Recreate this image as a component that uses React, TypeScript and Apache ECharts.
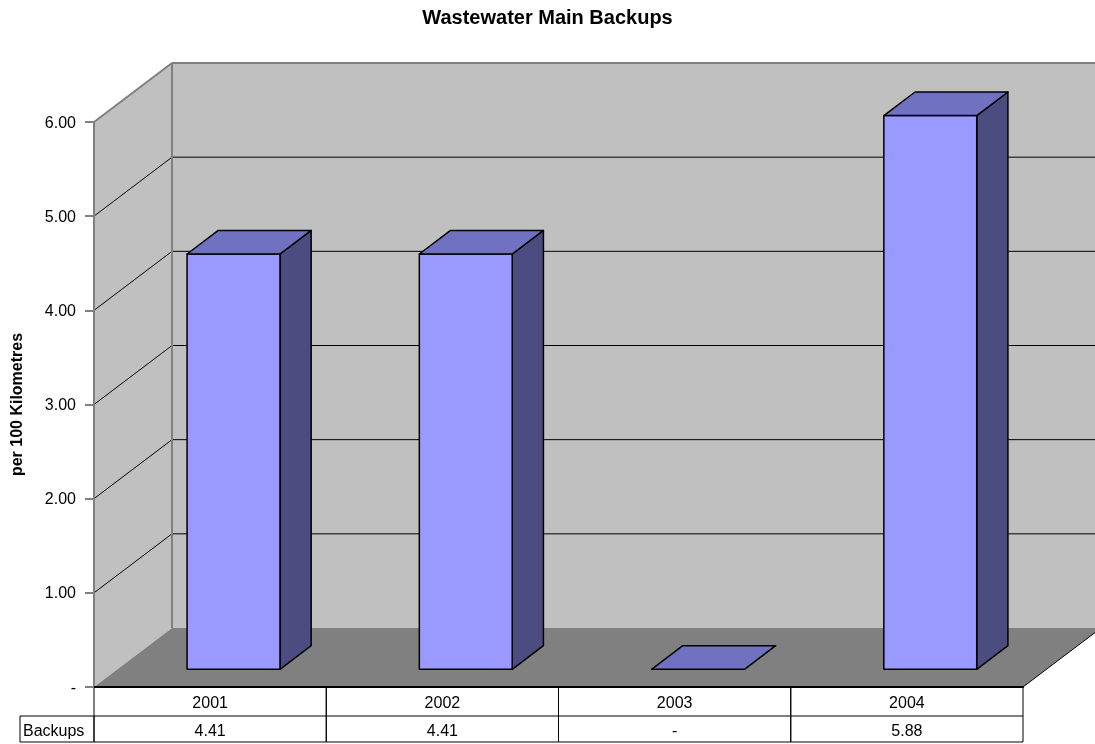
import React, { useEffect, useRef } from "react";
import * as echarts from "echarts";

const categories = ["2001", "2002", "2003", "2004"];
const values = [4.41, 4.41, 0, 5.88];
const seriesName = "Backups";
const yTicks = [0, 1, 2, 3, 4, 5, 6];
const titleText = "Wastewater Main Backups";
const yAxisTitle = "per 100 Kilometres";

const FONT = "'Liberation Sans', Arial, sans-serif";
const DX = 78;
const DY = -59;
const FRONT_T = 0.3;
const DEPTH_T = 0.4;
const BAR_RATIO = 0.4;
const ROW1 = 29;
const ROW2 = 26;

const fmt = (v: number) => (v === 0 ? "-" : v.toFixed(2));

export default function App() {
  const ref = useRef<HTMLDivElement>(null);
  useEffect(() => {
    if (!ref.current) return;
    const chart = echarts.init(ref.current, undefined, { renderer: "svg" });

    const wallsRender = (params: any, api: any) => {
      const cs = params.coordSys;
      const x0 = cs.x, x1 = cs.x + cs.width, yTop = cs.y, yBot = cs.y + cs.height;
      const children: any[] = [];
      children.push({ type: "rect", shape: { x: x0 + DX, y: yTop + DY, width: cs.width, height: cs.height }, style: { fill: "#c0c0c0" } });
      children.push({ type: "polygon", shape: { points: [[x0, yTop], [x0 + DX, yTop + DY], [x0 + DX, yBot + DY], [x0, yBot]] }, style: { fill: "#c0c0c0" } });
      children.push({ type: "polygon", shape: { points: [[x0, yBot], [x0 + DX, yBot + DY], [x1 + DX, yBot + DY], [x1, yBot]] }, style: { fill: "#808080" } });
      yTicks.forEach((v) => {
        if (v === 0 || v === yTicks[yTicks.length - 1]) return;
        const y = api.coord([0, v])[1];
        children.push({ type: "line", shape: { x1: x0 + DX, y1: y + DY, x2: x1 + DX, y2: y + DY }, style: { stroke: "#000", lineWidth: 1 } });
        children.push({ type: "line", shape: { x1: x0, y1: y, x2: x0 + DX, y2: y + DY }, style: { stroke: "#000", lineWidth: 1 } });
      });
      const edge = { stroke: "#808080", lineWidth: 2 };
      children.push({ type: "line", shape: { x1: x0, y1: yTop, x2: x0 + DX, y2: yTop + DY }, style: edge });
      children.push({ type: "line", shape: { x1: x0 + DX, y1: yTop + DY, x2: x1 + DX + 10, y2: yTop + DY }, style: edge });
      children.push({ type: "line", shape: { x1: x0 + DX, y1: yTop + DY, x2: x0 + DX, y2: yBot + DY }, style: edge });
      children.push({ type: "line", shape: { x1: x1, y1: yBot, x2: x1 + DX, y2: yBot + DY }, style: { stroke: "#000", lineWidth: 1 } });
      return { type: "group", children };
    };

    const barsRender = (params: any, api: any) => {
      const idx = api.value(0);
      const v = api.value(1);
      const base = api.coord([idx, 0]);
      const top = api.coord([idx, v]);
      const band = api.size([1, 0])[0];
      const w = band * BAR_RATIO;
      const fx = base[0] - w / 2 + DX * FRONT_T;
      const by = base[1] + DY * FRONT_T;
      const ty = top[1] + DY * FRONT_T;
      const dx = DX * DEPTH_T, dy = DY * DEPTH_T;
      const stroke = { stroke: "#000", lineWidth: 1.5, lineJoin: "round" };
      const children: any[] = [];
      if (by - ty > 0.5) {
        children.push({ type: "polygon", shape: { points: [[fx + w, ty], [fx + w + dx, ty + dy], [fx + w + dx, by + dy], [fx + w, by]] }, style: { fill: "#4c4c80", ...stroke } });
        children.push({ type: "rect", shape: { x: fx, y: ty, width: w, height: by - ty }, style: { fill: "#9999ff", ...stroke } });
      }
      children.push({ type: "polygon", shape: { points: [[fx, ty], [fx + dx, ty + dy], [fx + w + dx, ty + dy], [fx + w, ty]] }, style: { fill: "#7171c1", ...stroke } });
      return { type: "group", children };
    };

    const tableRender = (params: any, api: any) => {
      const idx = api.value(0);
      const v = api.value(1);
      const c = api.coord([idx, 0]);
      const band = api.size([1, 0])[0];
      const left = c[0] - band / 2;
      const yBot = c[1];
      const ls = { stroke: "#000", lineWidth: 1, fill: "none" };
      const children: any[] = [
        { type: "rect", shape: { x: left, y: yBot, width: band, height: ROW1 + ROW2 }, style: ls },
        { type: "line", shape: { x1: left, y1: yBot + ROW1, x2: left + band, y2: yBot + ROW1 }, style: ls },
        { type: "text", style: { text: fmt(v), x: c[0], y: yBot + ROW1 + ROW2 / 2 + 1, align: "center", verticalAlign: "middle", fontSize: 16, fontFamily: FONT, fill: "#000" } },
      ];
      if (idx === 0) {
        children.push({ type: "rect", shape: { x: 20, y: yBot + ROW1, width: left - 20, height: ROW2 }, style: ls });
        children.push({ type: "text", style: { text: seriesName, x: 23, y: yBot + ROW1 + ROW2 / 2 + 1, align: "left", verticalAlign: "middle", fontSize: 16, fontFamily: FONT, fill: "#000" } });
      }
      return { type: "group", children };
    };

    chart.setOption({
      animation: false,
      title: {
        text: titleText,
        left: "center",
        top: 7,
        padding: 0,
        textStyle: { fontSize: 20, fontWeight: "bold", color: "#000", fontFamily: FONT },
      },
      grid: { left: 94, right: 72, top: 122, bottom: 57, containLabel: false },
      xAxis: {
        type: "category",
        data: categories,
        boundaryGap: true,
        z: 10,
        axisLine: { show: true, lineStyle: { color: "#000", width: 2 } },
        axisTick: { show: false },
        axisLabel: { margin: 7, fontSize: 16, color: "#000", fontFamily: FONT },
        splitLine: { show: false },
      },
      yAxis: {
        type: "value",
        min: 0,
        max: 6,
        interval: 1,
        z: 10,
        name: yAxisTitle,
        nameLocation: "middle",
        nameRotate: 90,
        nameGap: 70,
        nameTextStyle: { fontSize: 16, fontWeight: "bold", color: "#000", fontFamily: FONT },
        axisLine: { show: true, lineStyle: { color: "#808080", width: 2 } },
        axisTick: { show: true, length: 9, lineStyle: { color: "#808080", width: 2 } },
        axisLabel: { margin: 18, fontSize: 16, color: "#000", fontFamily: FONT, formatter: (v: number) => fmt(v) },
        splitLine: { show: false },
      },
      series: [
        { type: "custom", name: "walls", renderItem: wallsRender, data: [[0, 0]], z: 1, silent: true, clip: false },
        { type: "custom", name: seriesName, renderItem: barsRender, data: values.map((v, i) => [i, v]), z: 3, clip: false },
        { type: "custom", name: "table", renderItem: tableRender, data: values.map((v, i) => [i, v]), z: 4, clip: false, silent: true },
      ],
    });
    return () => chart.dispose();
  }, []);
  return <div ref={ref} style={{ position: "fixed", left: 0, top: 0, width: 1095, height: 744 }} />;
}
